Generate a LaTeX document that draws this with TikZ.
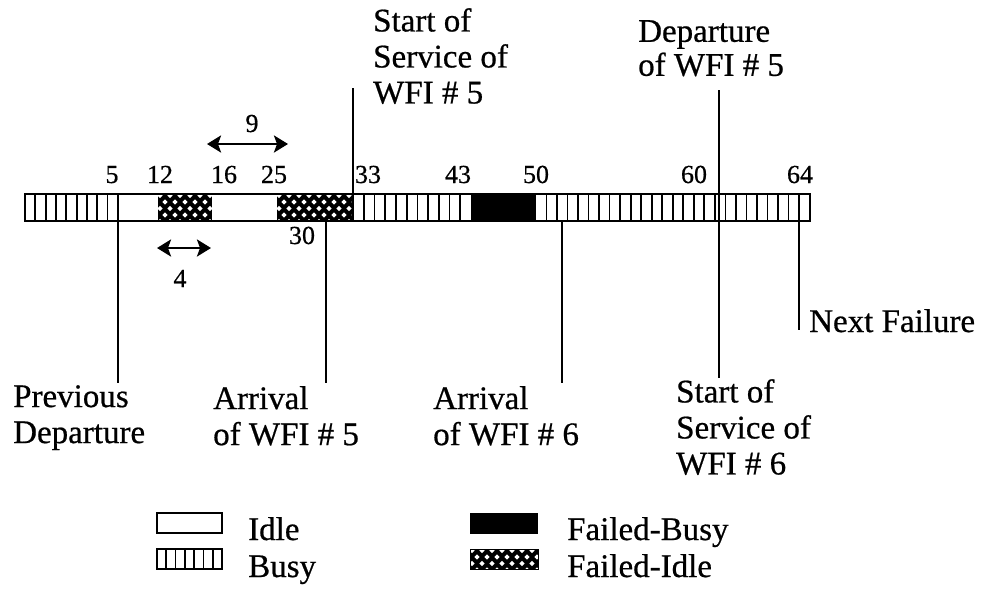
\documentclass[tikz,border=0pt]{standalone}
\usepackage{fontspec}
\setmainfont{Liberation Serif}[FakeBold=0.6]
\usetikzlibrary{arrows.meta}
\newcommand\crossfill[4]{%
 \begin{scope}
 \clip (#1,#2) rectangle (#3,#4);
 \fill[black] (#1,#2) rectangle (#3,#4);
 \foreach \rr in {0,...,5}{
   \pgfmathsetmacro\yy{#2+1.5+\rr*6.5}
   \pgfmathsetmacro\xo{#1+2+mod(\rr,2)*5}
   \foreach \cc in {0,...,9}{
     \fill[white] ({\xo+\cc*10},\yy) +(0,-2.6) -- +(2.6,0) -- +(0,2.6) -- +(-2.6,0) -- cycle;
   }
 }
 \end{scope}}
\newcommand\hatchfill[6]{% x1 y1 x2 y2 step n
 \foreach \ii in {1,...,#6}{
   \draw[hatch] ({#1+\ii*#5},#2) -- ({#1+\ii*#5},#4);
 }}
\begin{document}
\begin{tikzpicture}[x=1pt,y=-1pt,
  lbl/.style={font=\fontsize{33}{36}\selectfont, align=left, inner sep=0, anchor=north west},
  leg/.style={font=\fontsize{33}{36}\selectfont, inner sep=0, anchor=base west},
  num/.style={font=\fontsize{26}{28}\selectfont, inner sep=0, anchor=base},
  evline/.style={line width=2pt},
  hatch/.style={line width=1.7pt},
  span/.style={line width=2.6pt, {Stealth[length=14pt,width=17pt,inset=3pt]}-{Stealth[length=14pt,width=17pt,inset=3pt]}},
  barline/.style={line width=2.2pt}]
\useasboundingbox (0,0) rectangle (982,603);
\fill[white] (0,0) rectangle (982,603);

% ---- bar ----
\crossfill{158}{194}{212}{221}
\crossfill{277}{194}{353}{221}
\fill[black] (471,194) rectangle (536,221);
\hatchfill{25}{194}{118}{221}{10.33}{8}
\hatchfill{353}{194}{471}{221}{10.73}{10}
\hatchfill{536}{194}{799}{221}{10.52}{25}
\draw[barline] (25,194) rectangle (810,221);

% ---- numbers ----
\node[num] (n5)  at (112,183) {5};
\node[num] (n12) at (160,183) {12};
\node[num] (n16) at (224,183) {16};
\node[num] (n25) at (274,183) {25};
\node[num] (n33) at (368,183) {33};
\node[num] (n43) at (458,183) {43};
\node[num] (n50) at (536,183) {50};
\node[num] (n60) at (694,183) {60};
\node[num] (n64) at (800,183) {64};
\node[num] (n30) at (302,244) {30};

% ---- span arrows ----
\coordinate (a9l) at (207,144);
\coordinate (a9r) at (288,144);
\draw[span] (a9l) -- (a9r);
\node[num] (l9) at (252,132) {9};
\coordinate (a4l) at (157,248);
\coordinate (a4r) at (211,248);
\draw[span] (a4l) -- (a4r);
\node[num] (l4) at (180,287) {4};

% ---- event lines ----
\coordinate (pd1) at (118,194); \coordinate (pd2) at (118,383);
\coordinate (ar5a) at (326,221); \coordinate (ar5b) at (326,383);
\coordinate (ar6a) at (562,221); \coordinate (ar6b) at (562,383);
\coordinate (ss5a) at (353,88);  \coordinate (ss5b) at (353,221);
\coordinate (dp5a) at (719,90);  \coordinate (dp5b) at (719,378);
\coordinate (nfa) at (799,194);  \coordinate (nfb) at (799,330);
\draw[evline] (pd1) -- (pd2);
\draw[evline] (ar5a) -- (ar5b);
\draw[evline] (ar6a) -- (ar6b);
\draw[evline] (ss5a) -- (ss5b);
\draw[evline] (dp5a) -- (dp5b);
\draw[evline] (nfa) -- (nfb);

% ---- labels ----
\node[lbl] (tss5) at (373,8) {Start of\\Service of\\WFI \# 5};
\node[lbl, font=\fontsize{33}{34}\selectfont] (tdp5) at (638,20) {Departure\\of WFI \# 5};
\node[leg] (tnf) at (809,332) {Next Failure};
\node[lbl] (tpd) at (13,385) {Previous\\Departure};
\node[lbl] (tar5) at (213,386) {Arrival\\of WFI \# 5};
\node[lbl] (tar6) at (433,386) {Arrival\\of WFI \# 6};
\node[lbl] (tss6) at (676,379) {Start of\\Service of\\WFI \# 6};

% ---- legend ----
\draw[barline] (157,513) rectangle (222,533);
\node[leg] (tidle) at (248,540) {Idle};
\hatchfill{157}{549}{222}{569}{9.29}{6}
\draw[barline] (157,549) rectangle (222,569);
\node[leg] (tbusy) at (248,577) {Busy};
\fill[black] (470,513) rectangle (538,534);
\node[leg] (tfb) at (567,540) {Failed-Busy};
\crossfill{470}{549}{538}{569}
\draw[line width=1pt] (470,549) rectangle (538,569);
\node[leg] (tfi) at (567,577) {Failed-Idle};
\end{tikzpicture}
\end{document}
